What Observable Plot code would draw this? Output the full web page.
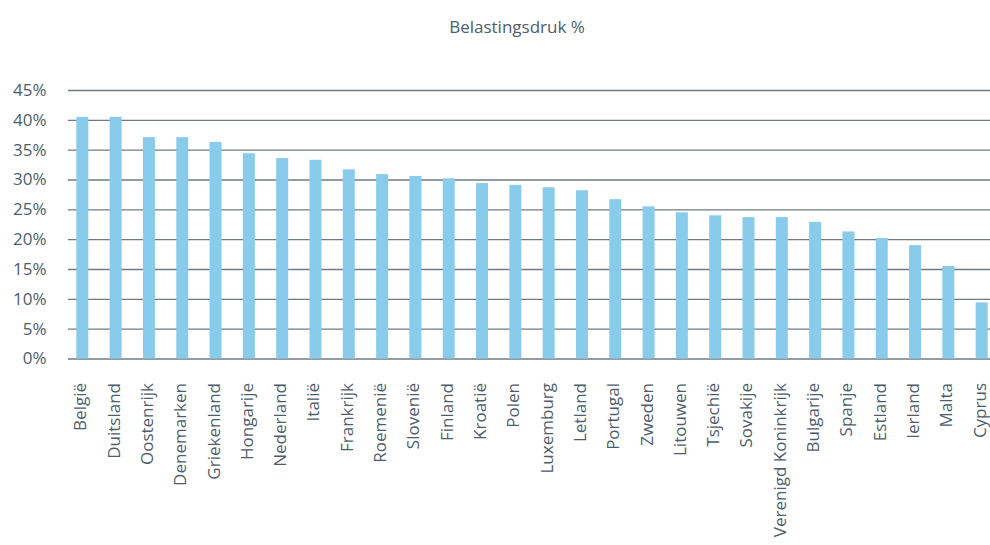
<!DOCTYPE html>
<html>
<head>
<meta charset="utf-8">
<script src="https://cdn.jsdelivr.net/npm/d3@7"></script>
<script src="https://cdn.jsdelivr.net/npm/@observablehq/plot@0.6"></script>
<style>
  html, body { margin: 0; padding: 0; background: #fff; }
  #wrap { position: relative; width: 990px; height: 545px; overflow: hidden; }
  #title { position: absolute; left: 44px; top: 15px; width: 946px; text-align: center;
           font-family: "Open Sans", sans-serif; font-size: 17px; color: #4d5d6b; }
</style>
</head>
<body>
<div id="wrap">
  <div id="title">Belastingsdruk %</div>
  <div id="chart"></div>
</div>
<script>
const countries = ["België","Duitsland","Oostenrijk","Denemarken","Griekenland","Hongarije","Nederland","Italië","Frankrijk","Roemenië","Slovenië","Finland","Kroatië","Polen","Luxemburg","Letland","Portugal","Zweden","Litouwen","Tsjechië","Sovakije","Verenigd Koninkrijk","Bulgarije","Spanje","Estland","Ierland","Malta","Cyprus"];
const values = [40.5,40.5,37.1,37.1,36.3,34.4,33.6,33.3,31.7,30.9,30.6,30.2,29.4,29.1,28.7,28.2,26.7,25.5,24.5,24.0,23.7,23.7,22.9,21.3,20.2,19.0,15.5,9.4];
const yTicks = [0,5,10,15,20,25,30,35,40,45];

const data = countries.map((c, i) => ({country: c, value: values[i]}));

const chart = Plot.plot({
  width: 990,
  height: 545,
  marginTop: 90,
  marginBottom: 186.5,
  marginLeft: 68,
  marginRight: 0,
  style: {fontFamily: "Open Sans, sans-serif", fontSize: "17px", color: "#4d5d6b", background: "#fff"},
  x: {domain: countries, range: [55, 1009], padding: 0.64, round: false, label: null},
  y: {domain: [0, 45], label: null},
  marks: [
    Plot.ruleY(yTicks, {stroke: "#6f7a84", strokeWidth: 1.3}),
    Plot.barY(data, {x: "country", y: "value", fill: "#89cbeb"}),
    Plot.axisY({ticks: yTicks, tickSize: 0, tickPadding: 22, tickFormat: d => d + "%", label: null, fill: "#4d5d6b", fontSize: 17}),
    Plot.axisX({tickSize: 0, tickPadding: 24, tickRotate: -90, dx: -2, label: null, fill: "#4d5d6b", fontSize: 17})
  ]
});
document.getElementById("chart").appendChild(chart);
</script>
</body>
</html>
